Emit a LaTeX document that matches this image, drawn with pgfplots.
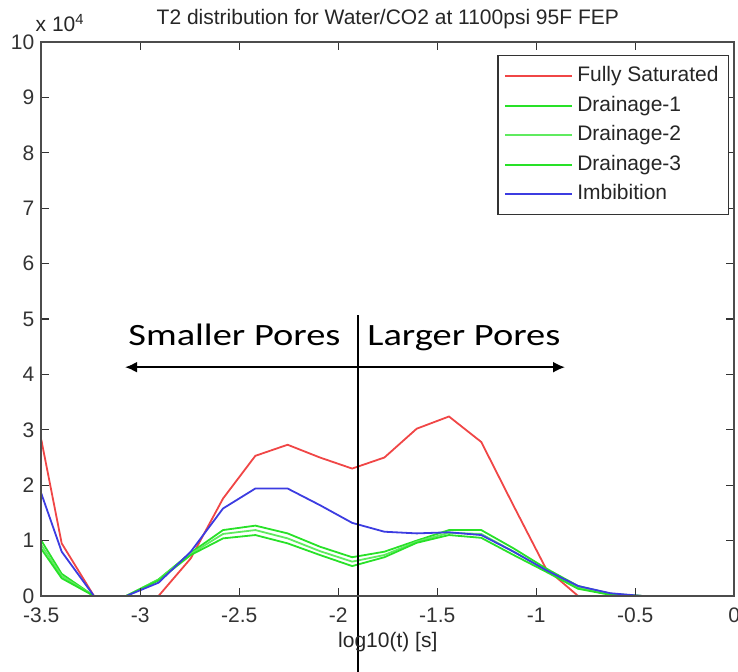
\documentclass[border=0pt]{standalone}
\usepackage{pgfplots}
\pgfplotsset{compat=1.18}
\usepackage{fontspec}
\setmainfont{Liberation Sans}
\newfontfamily\annfont[FakeStretch=1.24]{Carlito}
\usetikzlibrary{arrows.meta}
\definecolor{mred}{RGB}{240,70,70}
\definecolor{mgreen}{RGB}{40,225,40}
\definecolor{mgreenb}{RGB}{95,235,95}
\definecolor{mblue}{RGB}{60,60,225}
\begin{document}
\begin{tikzpicture}
\useasboundingbox (-20.65pt,-38pt) rectangle (348.35pt,298pt);
\clip (-20.65pt,-38pt) rectangle (348.35pt,298pt);
\begin{axis}[
  scale only axis, width=346.5pt, height=277pt,
  xmin=-3.5, xmax=0, ymin=0, ymax=10,
  xtick={-3.5,-3,...,0}, ytick={0,1,...,10},
  tick pos=both, tick align=inside,
  major tick length=4pt,
  axis on top,
  axis line style={black!70, line width=1pt},
  every tick/.style={black!80, line width=0.6pt},
  /pgf/number format/assume math mode=true,
  ticklabel style={font=\fontsize{10.5}{12}\selectfont, text=black!80},
  xticklabel style={yshift=-2.5pt},
  title={T2 distribution for Water/CO2 at 1100psi 95F FEP},
  title style={font=\fontsize{10.5}{12}\selectfont, text=black!85, yshift=-3pt},
  xlabel={log10(t) [s]},
  xlabel style={font=\fontsize{10.5}{12}\selectfont, text=black!85, yshift=2pt},
  clip=false,
  legend cell align=left,
  legend style={at={(0.9928,0.9765)}, anchor=north east, draw=black!80, line width=0.6pt, fill=white,
    inner sep=3pt, font=\fontsize{10.5}{12}\selectfont,
    nodes={text height=8pt, text depth=2.5pt, inner sep=2.1pt, text=black!85}},
  legend image code/.code={\draw[#1, line width=1pt] (0pt,0pt) -- (33.5pt,0pt);},
]
\addplot[mred, line width=0.9pt] coordinates {
(-3.5,2.82) (-3.397,0.95) (-3.234,0) (-3.071,0) (-2.908,0) (-2.745,0.68) (-2.582,1.76) (-2.419,2.53) (-2.256,2.73) (-2.093,2.50) (-1.930,2.30) (-1.767,2.50) (-1.604,3.02) (-1.441,3.24) (-1.278,2.78) (-1.115,1.63) (-0.952,0.50) (-0.789,0) (-0.626,0) (-0.463,0) (-0.300,0) (-0.137,0) (0,0)};
\addlegendentry{Fully Saturated}
\addplot[mgreen, line width=0.9pt] coordinates {
(-3.5,1.00) (-3.397,0.40) (-3.234,0) (-3.071,0) (-2.908,0.30) (-2.745,0.78) (-2.582,1.19) (-2.419,1.27) (-2.256,1.13) (-2.093,0.89) (-1.930,0.70) (-1.767,0.80) (-1.604,1.00) (-1.441,1.19) (-1.278,1.19) (-1.115,0.86) (-0.952,0.50) (-0.789,0.18) (-0.626,0.04) (-0.463,0) (-0.300,0) (-0.137,0) (0,0)};
\addlegendentry{Drainage-1}
\addplot[mgreenb, line width=0.9pt] coordinates {
(-3.5,0.92) (-3.397,0.36) (-3.234,0) (-3.071,0) (-2.908,0.29) (-2.745,0.76) (-2.582,1.12) (-2.419,1.19) (-2.256,1.04) (-2.093,0.81) (-1.930,0.62) (-1.767,0.74) (-1.604,0.98) (-1.441,1.14) (-1.278,1.12) (-1.115,0.80) (-0.952,0.47) (-0.789,0.15) (-0.626,0.03) (-0.463,0) (-0.300,0) (-0.137,0) (0,0)};
\addlegendentry{Drainage-2}
\addplot[mgreen, line width=0.9pt] coordinates {
(-3.5,0.85) (-3.397,0.32) (-3.234,0) (-3.071,0) (-2.908,0.28) (-2.745,0.74) (-2.582,1.04) (-2.419,1.10) (-2.256,0.95) (-2.093,0.74) (-1.930,0.54) (-1.767,0.70) (-1.604,0.96) (-1.441,1.10) (-1.278,1.05) (-1.115,0.74) (-0.952,0.44) (-0.789,0.13) (-0.626,0.02) (-0.463,0) (-0.300,0) (-0.137,0) (0,0)};
\addlegendentry{Drainage-3}
\addplot[mblue, line width=0.9pt] coordinates {
(-3.5,1.85) (-3.397,0.80) (-3.234,0) (-3.071,0) (-2.908,0.24) (-2.745,0.80) (-2.582,1.58) (-2.419,1.94) (-2.256,1.94) (-2.093,1.64) (-1.930,1.32) (-1.767,1.16) (-1.604,1.13) (-1.441,1.15) (-1.278,1.10) (-1.115,0.80) (-0.952,0.47) (-0.789,0.18) (-0.626,0.05) (-0.463,0) (-0.300,0) (-0.137,0) (0,0)};
\addlegendentry{Imbibition}
% annotations
\draw[black, line width=1.3pt] (axis cs:-1.90,5.07) -- (axis cs:-1.90,-1.5);
\draw[black, line width=1pt, {Latex[length=6pt,width=5.5pt]}-{Latex[length=6pt,width=5.5pt]}] (axis cs:-3.077,4.13) -- (axis cs:-0.855,4.13);
\node[anchor=base west, inner sep=0pt, font=\annfont\fontsize{15.5}{18}\selectfont] at (axis cs:-3.062,4.53) {Smaller Pores};
\node[anchor=base west, inner sep=0pt, font=\annfont\fontsize{15.5}{18}\selectfont] at (axis cs:-1.855,4.53) {Larger Pores};
\node[anchor=base west, inner sep=0pt, font=\fontsize{10.5}{12}\selectfont, text=black!85] at ([xshift=-3pt,yshift=5pt]rel axis cs:0,1) {x 10\textsuperscript{4}};
\end{axis}
\end{tikzpicture}
\end{document}
